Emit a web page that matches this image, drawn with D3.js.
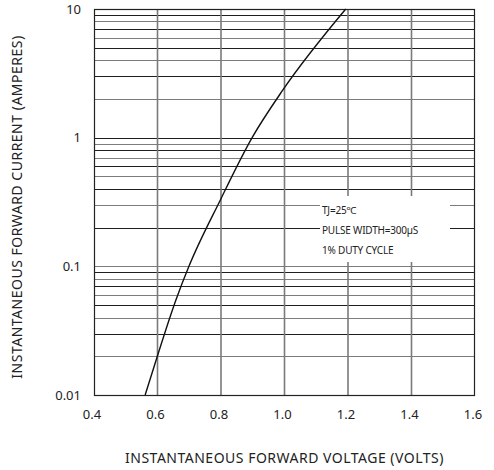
<!DOCTYPE html>
<html>
  <head>
    <script src="https://d3js.org/d3.v7.min.js" charset="utf-8"></script>
    <meta charset="UTF-8">
    <title>forward characteristics</title>
    <style>
      body { margin: 0; background: #fff; }
      text { font-family: "Noto Sans", "DejaVu Sans", sans-serif; fill: #222; }
    </style>
  </head>
  <body>
    <svg class="chart"></svg>
    <script type="text/javascript">

     // curve (volts, amperes)
     var voltage = [0.561, 0.598, 0.658, 0.699, 0.798, 0.898, 0.995, 1.193];
     var current = [0.01, 0.0195, 0.0548, 0.10, 0.328, 1.0, 2.35, 10];

     var xTicks = [0.4, 0.6, 0.8, 1.0, 1.2, 1.4, 1.6];
     var xTickLabels = ["0.4", "0.6", "0.8", "1.0", "1.2", "1.4", "1.6"];
     var yTicks = [0.01, 0.1, 1, 10];
     var yTickLabels = ["0.01", "0.1", "1", "10"];
     var decades = [0.01, 0.1, 1];
     var multiples = [1, 2, 3, 4, 5, 6, 7, 8, 9];

     var legendLines = ["TJ=25\u2103", "PULSE WIDTH=300\u00b5S", "1% DUTY CYCLE"];

     var width = 494,
         height = 470,
         plotL = 94,
         plotR = 475,
         plotT = 9,
         plotB = 395;

     var chart = d3.select(".chart")
                   .attr("width", width)
                   .attr("height", height);

     var x = d3.scaleLinear().domain([0.4, 1.6]).range([plotL, plotR]);
     var y = d3.scaleLog().domain([0.01, 10]).range([plotB, plotT]);

     // horizontal grid: 1..9 in every decade plus the top line
     var hLines = [];
     decades.forEach(function(d) {
         multiples.forEach(function(m) { hLines.push(d * m); });
     });
     hLines.push(10);

     chart.append("g")
          .selectAll("line")
          .data(hLines)
          .enter().append("line")
          .attr("x1", plotL)
          .attr("x2", plotR)
          .attr("y1", function(d) { return Math.round(y(d)) + 0.5; })
          .attr("y2", function(d) { return Math.round(y(d)) + 0.5; })
          .attr("stroke", function(d, i) { return i % 2 ? "#7c7c7c" : "#1e1e1e"; })
          .attr("stroke-width", 1.1);

     // vertical grid
     chart.append("g")
          .selectAll("line")
          .data(xTicks.slice(1, -1))
          .enter().append("line")
          .attr("x1", function(d) { return x(d); })
          .attr("x2", function(d) { return x(d); })
          .attr("y1", plotT)
          .attr("y2", plotB)
          .attr("stroke", "#7a7a7a")
          .attr("stroke-width", 1.6);

     // frame
     chart.append("rect")
          .attr("x", plotL + 0.5)
          .attr("y", plotT + 0.5)
          .attr("width", plotR - plotL - 1)
          .attr("height", plotB - plotT)
          .attr("fill", "none")
          .attr("stroke", "#222")
          .attr("stroke-width", 1.2);

     // conditions box blanks the grid behind it
     var box = chart.append("g");
     box.append("rect")
        .attr("x", 320)
        .attr("y", 196)
        .attr("width", 130)
        .attr("height", 66)
        .attr("fill", "#fff");
     box.selectAll("text")
        .data(legendLines)
        .enter().append("text")
        .attr("x", 322)
        .attr("y", function(d, i) { return 214 + i * 20; })
        .attr("font-size", 10)
        .attr("letter-spacing", -0.2)
        .text(function(d) { return d; });

     // the curve
     var pts = voltage.map(function(v, i) { return [x(v), y(current[i])]; });
     chart.append("path")
          .attr("d", d3.line().curve(d3.curveMonotoneX)(pts))
          .attr("fill", "none")
          .attr("stroke", "#111")
          .attr("stroke-width", 1.4);

     // tick labels
     chart.append("g")
          .selectAll("text")
          .data(xTicks)
          .enter().append("text")
          .attr("x", function(d) { return x(d) - 2; })
          .attr("y", 419)
          .attr("text-anchor", "middle")
          .attr("font-size", 13)
          .text(function(d, i) { return xTickLabels[i]; });

     chart.append("g")
          .selectAll("text")
          .data(yTicks)
          .enter().append("text")
          .attr("x", 81)
          .attr("y", function(d) { return y(d); })
          .attr("dy", "0.35em")
          .attr("text-anchor", "end")
          .attr("font-size", 13)
          .text(function(d, i) { return yTickLabels[i]; });

     // axis titles
     chart.append("text")
          .attr("x", (plotL + plotR) / 2)
          .attr("y", 463)
          .attr("text-anchor", "middle")
          .attr("font-size", 14)
          .attr("letter-spacing", 0.5)
          .text("INSTANTANEOUS FORWARD VOLTAGE (VOLTS)");

     chart.append("text")
          .attr("transform", "translate(22," + ((plotT + plotB) / 2 + 5) + ") rotate(-90)")
          .attr("text-anchor", "middle")
          .attr("font-size", 14)
          .attr("letter-spacing", 0.5)
          .text("INSTANTANEOUS FORWARD CURRENT (AMPERES)");

    </script>
  </body>
</html>
